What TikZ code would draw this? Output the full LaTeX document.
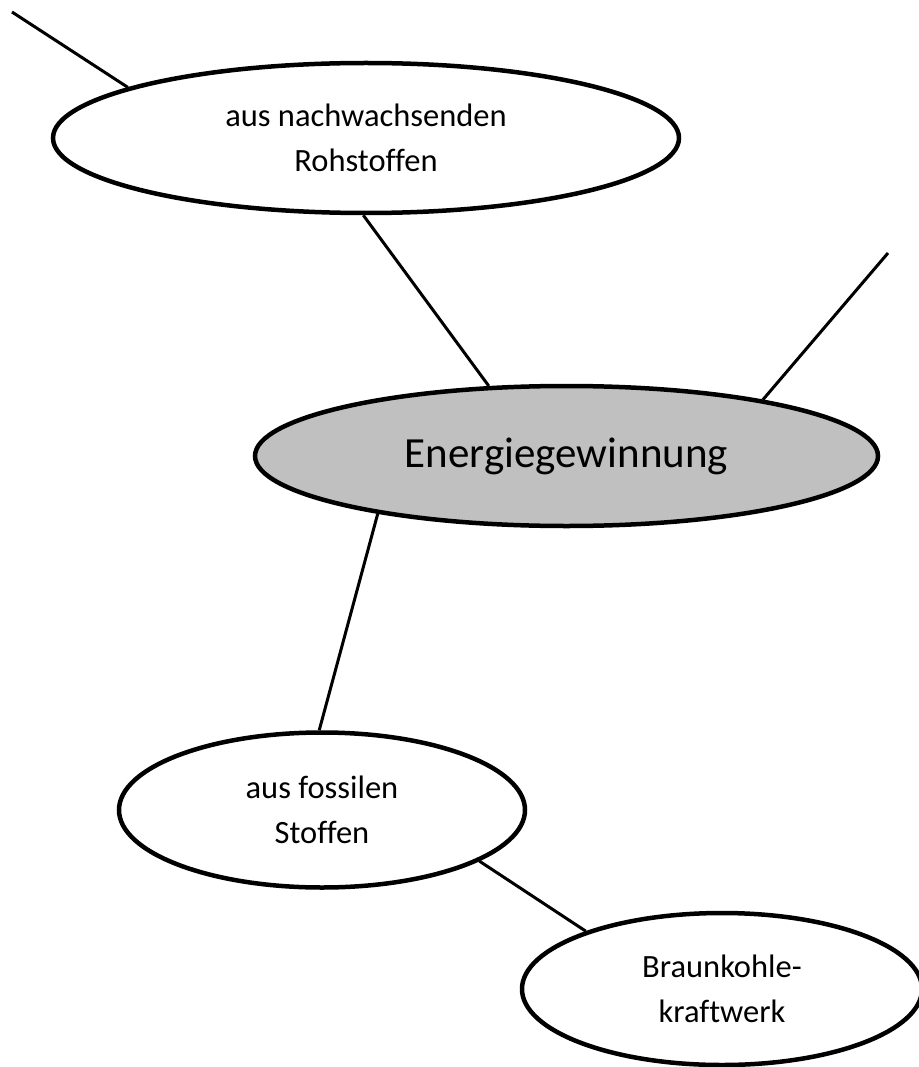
\documentclass[tikz,border=0pt]{standalone}
\usepackage{fontspec}
\setmainfont{Carlito}[Ligatures=NoCommon]
\usepackage{tikz}
\usetikzlibrary{shapes.geometric}
\definecolor{kerngrau}{RGB}{192,192,192}

\begin{document}
\begin{tikzpicture}
	[x=1pt,y=-1pt,
	 blase/.style={ellipse,draw=black,line width=4.5pt,inner sep=0pt,align=center,font=\fontsize{32.5}{45}\selectfont},
	 kern/.style={blase,fill=kerngrau,font=\fontsize{43}{50}\selectfont}]
	\useasboundingbox (0,0) rectangle (918,1067);
	\node[blase,minimum width=626pt,minimum height=150pt] (roh) at (366,138) {aus nachwachsenden\\Rohstoffen};
	\node[kern,minimum width=623pt,minimum height=140pt] (energie) at (566.5,456) {Energiegewinnung};
	\node[blase,minimum width=406pt,minimum height=155pt] (fossil) at (322,810) {aus fossilen\\Stoffen};
	\node[blase,minimum width=400pt,minimum height=152pt] (braun) at (722,989) {Braunkohle-\\kraftwerk};
	\coordinate (ecke) at (12,12);
	\coordinate (rechts) at (888,253);
	
	\foreach \from/\to in {ecke/roh.168,roh.-92/energie.138,energie.16/rechts,energie.-163/fossil.92,fossil.-18/braun.157}
	\draw[line width=3pt] (\from) -- (\to);
	\end{tikzpicture}
\end{document}
